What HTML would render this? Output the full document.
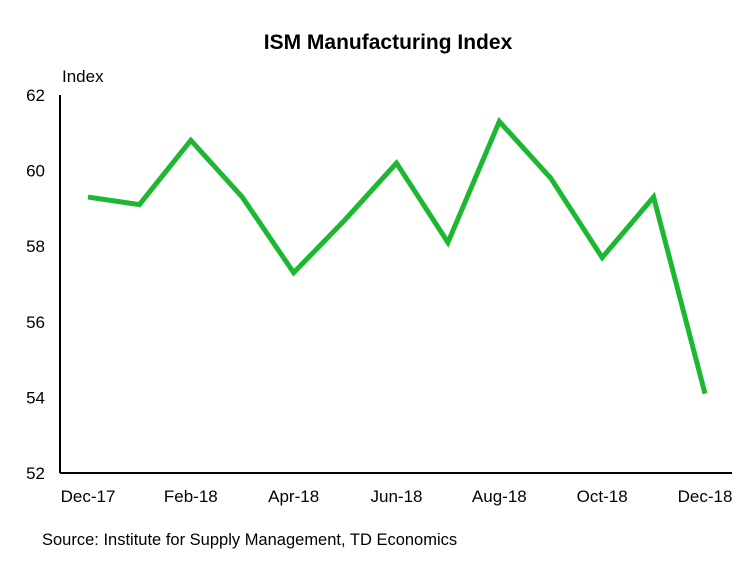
<!DOCTYPE html>
<html><head><meta charset="utf-8"><style>
body{margin:0;background:#fff;}
svg text{font-family:"Liberation Sans",Arial,sans-serif;fill:#000;}
</style></head><body>
<svg id="chart" width="751" height="556">
<text x="388" y="49" text-anchor="middle" font-size="21" font-weight="bold">ISM Manufacturing Index</text>
<text x="62" y="82" font-size="17">Index</text>
<text x="42" y="545" font-size="16.5">Source: Institute for Supply Management, TD Economics</text>
<g id="axes"></g>
<g id="marks"></g>
</svg>
<script>
const categories=["Dec-17","Jan-18","Feb-18","Mar-18","Apr-18","May-18","Jun-18","Jul-18","Aug-18","Sep-18","Oct-18","Nov-18","Dec-18"];
const values=[59.3,59.1,60.8,59.3,57.3,58.7,60.2,58.1,61.3,59.8,57.7,59.3,54.1];
const yTicks=[52,54,56,58,60,62];
const xLabelIdx=[0,2,4,6,8,10,12];
const ns="http://www.w3.org/2000/svg";
const x0=88,x1=705,yTop=95,yBot=473,yMin=52,yMax=62;
const xs=i=>x0+(x1-x0)*i/(categories.length-1);
const ys=v=>yBot-(v-yMin)/(yMax-yMin)*(yBot-yTop);
const axes=document.getElementById('axes'),marks=document.getElementById('marks');
function mk(t,a,p){const e=document.createElementNS(ns,t);for(const k in a)e.setAttribute(k,a[k]);p.appendChild(e);return e;}
let e=mk('line',{x1:60,y1:yTop,x2:60,y2:yBot,stroke:'#000','stroke-width':2},axes);


e=mk('line',{x1:60,y1:yBot,x2:732,y2:yBot,stroke:'#000','stroke-width':2},axes);


yTicks.forEach(v=>{
 const t=mk('text',{x:45,y:ys(v)+6,'text-anchor':'end','font-size':17},axes);t.textContent=v;
 
 
});
xLabelIdx.forEach(i=>{
 const t=mk('text',{x:xs(i),y:502,'text-anchor':'middle','font-size':17},axes);t.textContent=categories[i];
 
 
});
const p=mk('polyline',{points:values.map((v,i)=>xs(i)+','+ys(v)).join(' '),fill:'none',stroke:'#1db832','stroke-width':5,'stroke-linejoin':'miter'},marks);


</script>
</body></html>
